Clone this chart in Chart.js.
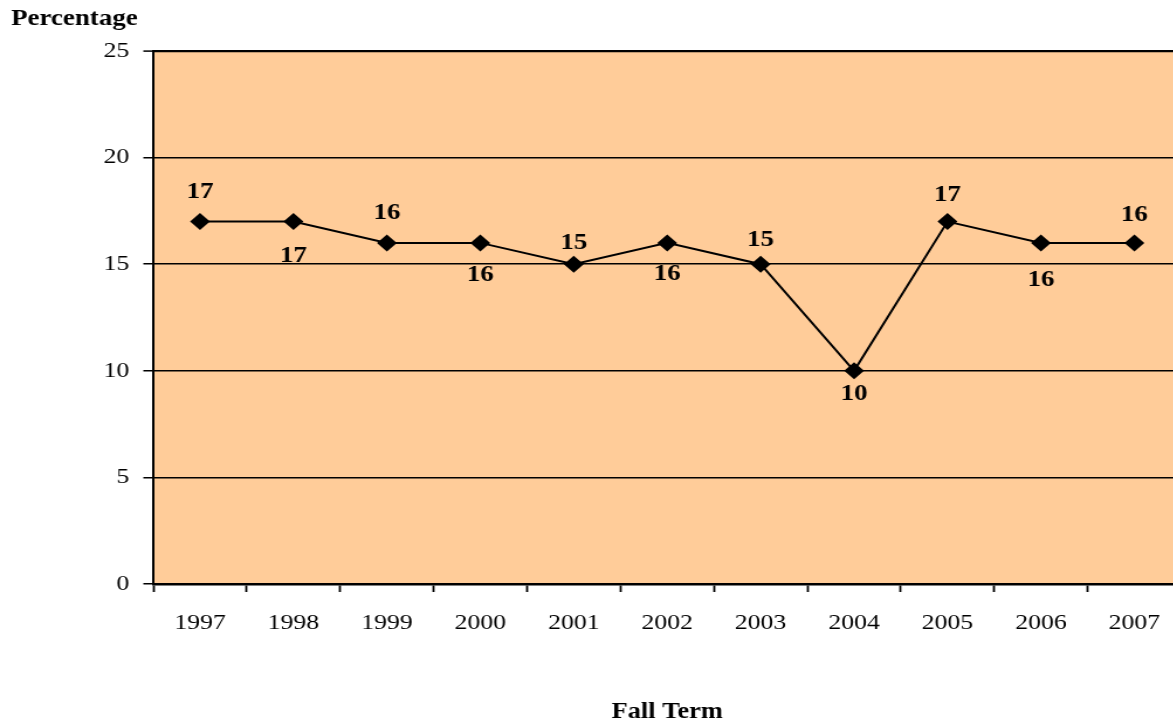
<!DOCTYPE html>
<html>
<head>
<meta charset="utf-8">
<script src="https://cdn.jsdelivr.net/npm/chart.js@4/dist/chart.umd.min.js"></script>
<style>
    html, body { margin: 0; padding: 0; background: #fff; overflow: hidden; }
    #wrap {
        width: 1018px;
        height: 726px;
        transform: scaleX(1.17);
        transform-origin: 0 0;
    }
</style>
</head>
<body>
<div id="wrap"><canvas id="chart"></canvas></div>
<script>
// Data
const years = ['1997', '1998', '1999', '2000', '2001', '2002', '2003', '2004', '2005', '2006', '2007'];
const percentage = [17, 17, 16, 16, 15, 16, 15, 10, 17, 16, 16];
const yTicks = [0, 5, 10, 15, 20, 25];

// Where each value label sits relative to its point (px, negative = above)
const labelOffsets = [-29, 35, -30, 32, -21, 31, -24, 23, -26, 37, -28];

const serif = '"Liberation Serif", "Times New Roman", Times, serif';

// Peach plot background
const plotBackground = {
    id: 'plotBackground',
    beforeDraw(chart) {
        const { ctx, chartArea: a } = chart;
        ctx.save();
        ctx.fillStyle = '#FFCC99';
        ctx.fillRect(a.left, a.top, a.right - a.left, a.bottom - a.top);
        ctx.restore();
    }
};

// Bold value labels next to each point
const valueLabels = {
    id: 'valueLabels',
    afterDatasetsDraw(chart) {
        const { ctx } = chart;
        const meta = chart.getDatasetMeta(0);
        ctx.save();
        ctx.font = 'bold 23px ' + serif;
        ctx.fillStyle = '#000';
        ctx.textAlign = 'center';
        ctx.textBaseline = 'middle';
        meta.data.forEach((pt, i) => {
            ctx.fillText(String(percentage[i]), pt.x, pt.y + labelOffsets[i]);
        });
        ctx.restore();
    }
};

// "Percentage" heading above the y axis
const yHeading = {
    id: 'yHeading',
    afterDraw(chart) {
        const { ctx } = chart;
        ctx.save();
        ctx.font = 'bold 23px ' + serif;
        ctx.fillStyle = '#000';
        ctx.textAlign = 'left';
        ctx.textBaseline = 'middle';
        ctx.fillText('Percentage', 9.5, 19);
        ctx.restore();
    }
};

new Chart(document.getElementById('chart'), {
    type: 'line',
    data: {
        labels: years,
        datasets: [{
            data: percentage,
            borderColor: '#000',
            borderWidth: 2,
            tension: 0,
            pointStyle: 'rectRot',
            pointRadius: 8.5,
            pointHoverRadius: 8.5,
            pointBackgroundColor: '#000',
            pointBorderColor: '#000',
            pointBorderWidth: 0
        }]
    },
    options: {
        responsive: true,
        maintainAspectRatio: false,
        animation: false,
        events: [],
        layout: { padding: { top: 51, left: 0, right: 0, bottom: 0 } },
        plugins: {
            legend: { display: false },
            tooltip: { enabled: false }
        },
        scales: {
            x: {
                offset: true,
                afterFit: s => { s.height = 142; },
                grid: {
                    offset: true,
                    drawOnChartArea: false,
                    drawTicks: true,
                    tickLength: 8,
                    tickColor: '#000',
                    tickWidth: 1.8
                },
                border: { color: '#000', width: 2.5 },
                ticks: {
                    color: '#000',
                    padding: 18,
                    maxRotation: 0,
                    autoSkip: false,
                    font: { family: serif, size: 22 }
                },
                title: {
                    display: true,
                    text: 'Fall Term',
                    color: '#000',
                    font: { family: serif, size: 22.5, weight: 'bold', lineHeight: 1 },
                    padding: { top: 0, bottom: 3 }
                }
            },
            y: {
                min: 0,
                max: 25,
                afterFit: s => { s.width = 131; },
                afterBuildTicks: s => { s.ticks = yTicks.map(v => ({ value: v })); },
                grid: {
                    color: '#000',
                    lineWidth: c => (c.tick && c.tick.value === 25 ? 2.2 : 1.5),
                    drawTicks: true,
                    tickLength: 8.5,
                    tickColor: '#000',
                    tickWidth: 1.5
                },
                border: { color: '#000', width: 2 },
                ticks: {
                    color: '#000',
                    padding: 12,
                    font: { family: serif, size: 22 }
                }
            }
        }
    },
    plugins: [plotBackground, valueLabels, yHeading]
});
</script>
</body>
</html>
